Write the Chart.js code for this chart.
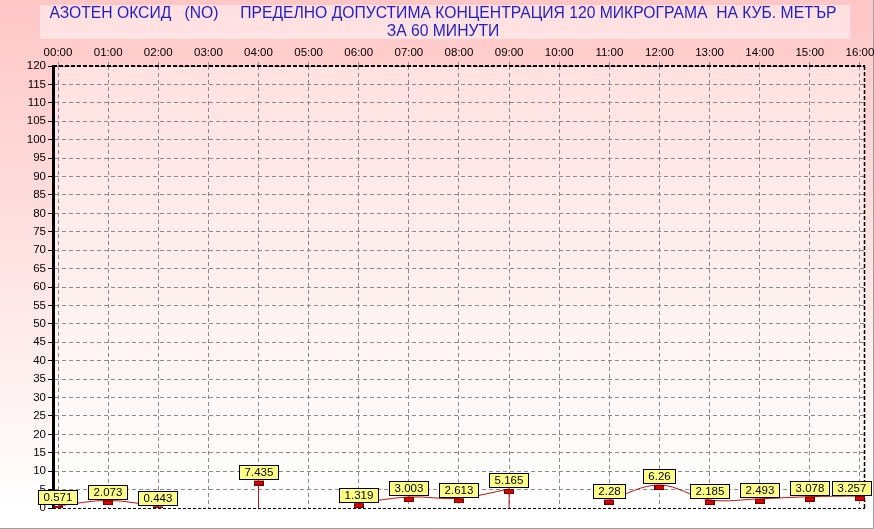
<!DOCTYPE html>
<html><head><meta charset="utf-8">
<script src="https://cdn.jsdelivr.net/npm/chart.js@4/dist/chart.umd.min.js"></script>
<style>html,body{margin:0;padding:0;background:#fff;overflow:hidden}canvas{display:block}</style>
</head><body>
<canvas id="c" width="874" height="529"></canvas>
<script>
// ---- data ----
const titleLines = ['АЗОТЕН ОКСИД   (NO)     ПРЕДЕЛНО ДОПУСТИМА КОНЦЕНТРАЦИЯ 120 МИКРОГРАМА  НА КУБ. МЕТЪР', 'ЗА 60 МИНУТИ'];
const hourLabels = ['00:00','01:00','02:00','03:00','04:00','05:00','06:00','07:00','08:00','09:00','10:00','11:00','12:00','13:00','14:00','15:00','16:00'];
const noValues = [0.571, 2.073, 0.443, null, 7.435, null, 1.319, 3.003, 2.613, 5.165, null, 2.28, 6.26, 2.185, 2.493, 3.078, 3.257];
const yMin = 0, yMax = 120, yStep = 5;

const FONT = "'Liberation Sans', Arial, sans-serif";

// points and drop lines built from the data
const linePoints = noValues.map((v, i) => ({x: i, y: v}));
const dropPoints = [];
noValues.forEach((v, i) => {
  if (v != null && i < noValues.length - 1 && noValues[i + 1] == null) {
    dropPoints.push({x: i, y: 0}, {x: i, y: v}, {x: i, y: null});
  }
});

// marker image: red rectangle hanging below the point
const mk = document.createElement('canvas');
mk.width = 10; mk.height = 10;
(function(){
  const m = mk.getContext('2d');
  m.fillStyle = '#e00000';
  m.fillRect(0.5, 5, 9, 4.5);
  m.strokeStyle = '#6a0000';
  m.lineWidth = 1;
  m.strokeRect(0.5, 5.5, 9, 4);
})();

const decor = {
  id: 'decor',
  beforeDraw(chart) {
    const {ctx, chartArea: a, width, height} = chart;
    ctx.save();
    const g = ctx.createLinearGradient(0, 0, 0, height);
    g.addColorStop(0, '#ffc6c6');
    g.addColorStop(0.96, '#ffffff');
    g.addColorStop(1, '#ffffff');
    ctx.fillStyle = g;
    ctx.fillRect(0, 0, width, height);
    ctx.fillStyle = '#ffffff';
    ctx.fillRect(0, a.bottom, width, height - a.bottom);
    ctx.fillStyle = 'rgba(255,255,255,0.4)';
    ctx.fillRect(a.left, a.top, a.right - a.left, a.bottom - a.top);
    // title box + title
    ctx.fillStyle = 'rgba(255,255,255,0.45)';
    ctx.fillRect(40, 5, 810, 34);
    ctx.fillStyle = '#1f1fc8';
    ctx.font = '15.7px ' + FONT;
    ctx.textAlign = 'center';
    ctx.textBaseline = 'middle';
    ctx.fillText(titleLines[0], 443, 14);
    ctx.fillText(titleLines[1], 443, 32);
    // outer frame right/bottom
    ctx.strokeStyle = '#a0a0a0';
    ctx.lineWidth = 1;
    ctx.beginPath();
    ctx.moveTo(873.5, 0); ctx.lineTo(873.5, 528.5); ctx.lineTo(0, 528.5);
    ctx.stroke();
    ctx.restore();
  },
  beforeDatasetsDraw(chart) {
    const {ctx, chartArea: a} = chart;
    ctx.save();
    ctx.strokeStyle = '#000';
    ctx.setLineDash([4, 2]);
    ctx.lineWidth = 2;
    ctx.beginPath(); ctx.moveTo(a.left, a.top); ctx.lineTo(a.right, a.top); ctx.stroke();
    ctx.lineWidth = 1.5;
    ctx.beginPath(); ctx.moveTo(a.right - 0.5, a.top); ctx.lineTo(a.right - 0.5, a.bottom); ctx.stroke();
    ctx.lineWidth = 1;
    ctx.setLineDash([3, 2]);
    ctx.beginPath(); ctx.moveTo(a.left, a.bottom + 0.5); ctx.lineTo(a.right, a.bottom + 0.5); ctx.stroke();
    ctx.restore();
  },
  afterDatasetsDraw(chart) {
    const {ctx} = chart;
    const meta = chart.getDatasetMeta(0);
    ctx.save();
    ctx.font = '11.5px ' + FONT;
    ctx.textBaseline = 'middle';
    ctx.textAlign = 'center';
    meta.data.forEach((p, i) => {
      const v = noValues[i];
      if (v == null) return;
      const txt = String(v);
      const w = Math.round(ctx.measureText(txt).width + 11);
      const h = 15;
      let x0 = Math.round(p.x - w / 2);
      if (x0 + w > 872) x0 = 872 - w;
      const y0 = Math.round(p.y - h - 0.5);
      ctx.fillStyle = '#ffff88';
      ctx.fillRect(x0, y0, w, h);
      ctx.strokeStyle = '#000';
      ctx.lineWidth = 1;
      ctx.strokeRect(x0 + 0.5, y0 + 0.5, w - 1, h - 1);
      ctx.fillStyle = '#000';
      ctx.fillText(txt, x0 + w / 2, y0 + h / 2 + 0.5);
    });
    ctx.restore();
  }
};

new Chart(document.getElementById('c'), {
  type: 'line',
  data: {
    datasets: [
      {
        data: linePoints,
        borderColor: '#c01010',
        borderWidth: 1,
        tension: 0.35,
        spanGaps: false,
        pointStyle: mk,
        pointRadius: 5,
        pointHoverRadius: 5,
        order: 1
      },
      {
        data: dropPoints,
        borderColor: '#c01010',
        borderWidth: 1,
        pointRadius: 0,
        spanGaps: false,
        tension: 0,
        order: 2
      }
    ]
  },
  options: {
    responsive: false,
    animation: false,
    events: [],
    layout: {padding: {left: 0, right: 9, top: 40, bottom: 21}},
    plugins: {
      legend: {display: false},
      tooltip: {enabled: false},
      title: {display: false}
    },
    scales: {
      x: {
        type: 'linear',
        position: 'top',
        min: -0.1,
        max: hourLabels.length - 1 + 0.1,
        afterBuildTicks: (s) => { s.ticks = hourLabels.map((_, i) => ({value: i})); },
        afterFit: (s) => { s.height = 26; s.paddingLeft = 0; s.paddingRight = 0; },
        ticks: {
          autoSkip: false, maxRotation: 0, minRotation: 0,
          color: '#000', padding: 2,
          font: {family: FONT, size: 11.5},
          callback: (v) => hourLabels[v] ?? ''
        },
        grid: {color: '#8a8a8a', lineWidth: 1, drawTicks: true, tickLength: 4, tickColor: '#8a8a8a'},
        border: {display: false, dash: [4, 3]}
      },
      y: {
        type: 'linear',
        min: yMin, max: yMax,
        afterFit: (s) => { s.width = 53; },
        ticks: {
          stepSize: yStep, color: '#000', padding: 2,
          font: {family: FONT, size: 11.5}
        },
        grid: {
          color: (c) => c.tick && c.tick.value === 0 ? 'rgba(0,0,0,0)' : '#8a8a8a',
          lineWidth: 1, drawTicks: true, tickLength: 5, tickColor: '#000'
        },
        border: {display: true, color: '#000', width: 3, dash: [4, 3]}
      }
    }
  },
  plugins: [decor]
});
</script>
</body></html>
